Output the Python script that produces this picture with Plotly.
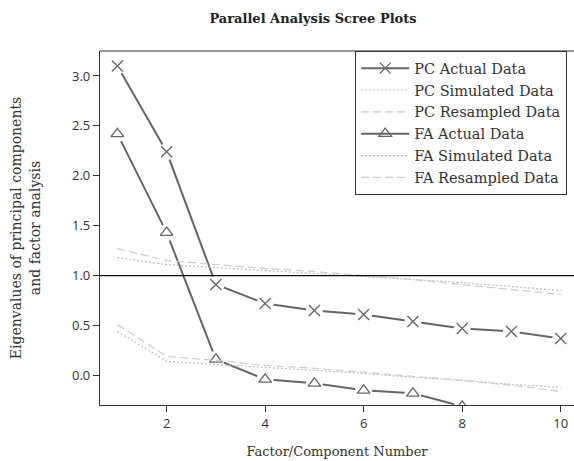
import plotly.graph_objects as go

factors = [1, 2, 3, 4, 5, 6, 7, 8, 9, 10]
pc_actual = [3.10, 2.24, 0.91, 0.72, 0.65, 0.61, 0.54, 0.47, 0.44, 0.37]
pc_simulated = [1.18, 1.11, 1.08, 1.05, 1.02, 0.99, 0.96, 0.93, 0.89, 0.85]
pc_resampled = [1.27, 1.15, 1.11, 1.07, 1.04, 1.00, 0.96, 0.91, 0.86, 0.81]
fa_actual = [2.42, 1.43, 0.16, -0.04, -0.08, -0.15, -0.18, -0.31, -0.36, -0.42]
fa_simulated = [0.44, 0.14, 0.11, 0.08, 0.05, 0.02, -0.02, -0.05, -0.09, -0.12]
fa_resampled = [0.51, 0.19, 0.15, 0.10, 0.07, 0.03, -0.01, -0.05, -0.10, -0.16]
y_ticks = [0.0, 0.5, 1.0, 1.5, 2.0, 2.5, 3.0]
x_ticks = [2, 4, 6, 8, 10]

SERIF = "DejaVu Serif"
SANS = "Open Sans"
ACT = "#666666"

fig = go.Figure()

def actual(name, ys, sym, rank):
    fig.add_trace(go.Scatter(x=factors, y=ys, name=name, mode="lines+markers",
                             line=dict(color=ACT, width=2),
                             marker=dict(symbol=sym, size=11, color=ACT, line=dict(color=ACT, width=1.3)),
                             legendrank=rank, cliponaxis=True))
    fig.add_trace(go.Scatter(x=factors, y=ys, mode="markers", showlegend=False, hoverinfo="skip",
                             marker=dict(symbol="circle", size=17, color="white", line=dict(width=0)),
                             cliponaxis=True))
    fig.add_trace(go.Scatter(x=factors, y=ys, mode="markers", showlegend=False,
                             marker=dict(symbol=sym, size=11, color=ACT, line=dict(color=ACT, width=1.3)),
                             cliponaxis=True))

actual("PC Actual Data", pc_actual, "x-thin-open", 1)
actual("FA Actual Data", fa_actual, "triangle-up-open", 4)

def ref(name, ys, dash, color, rank):
    fig.add_trace(go.Scatter(x=factors, y=ys, name=name, mode="lines",
                             line=dict(color=color, width=1.2, dash=dash), legendrank=rank))

ref("PC Simulated Data", pc_simulated, "2px,2px", "#bdbdbd", 2)
ref("PC Resampled Data", pc_resampled, "8px,4px", "#cccccc", 3)
ref("FA Simulated Data", fa_simulated, "2px,2px", "#bdbdbd", 5)
ref("FA Resampled Data", fa_resampled, "8px,4px", "#cccccc", 6)

fig.add_shape(type="line", xref="paper", yref="y", x0=0, x1=1, y0=1, y1=1,
              line=dict(color="#111111", width=1.2), layer="above")
fig.add_shape(type="line", xref="paper", yref="paper", x0=0, x1=1, y0=1, y1=1,
              line=dict(color="#333333", width=1.2), layer="above")

fig.update_layout(
    width=574, height=461,
    margin=dict(l=100, r=0, t=51, b=56),
    paper_bgcolor="white", plot_bgcolor="white",
    title=dict(text="<b>Parallel Analysis Scree Plots</b>", x=313/574, xref="container", xanchor="center",
               y=1 - 18/461, yref="container", yanchor="middle",
               font=dict(family=SERIF, size=13, color="#222222")),
    xaxis=dict(range=[0.647, 10.27], tickvals=x_ticks, ticks="outside", ticklen=6, tickcolor="#333333",
               showline=True, linecolor="#333333", linewidth=1.2, showgrid=False, zeroline=False,
               tickfont=dict(family=SANS, size=13, color="#333333"),
               title=dict(text="Factor/Component Number", standoff=16,
                          font=dict(family=SERIF, size=13, color="#333333"))),
    yaxis=dict(range=[-0.297, 3.25], tickvals=y_ticks, tickformat=".1f", ticks="outside", ticklen=6,
               tickcolor="#333333", showline=True, linecolor="#333333", linewidth=1.2, showgrid=False,
               zeroline=False, tickfont=dict(family=SANS, size=13, color="#333333"),
               title=dict(text="Eigenvalues of principal components<br>and factor analysis", standoff=28,
                          font=dict(family=SERIF, size=14, color="#333333"))),
    legend=dict(x=(355-100)/474, xanchor="left", y=1, yanchor="top", bgcolor="white",
                bordercolor="#333333", borderwidth=1.2,
                font=dict(family=SERIF, size=14.5, color="#333333"), itemwidth=48,
                traceorder="normal"),
    showlegend=True,
)

fig.write_html("out.html", config={"displayModeBar": False},
               post_script="document.body.style.margin='0';")
